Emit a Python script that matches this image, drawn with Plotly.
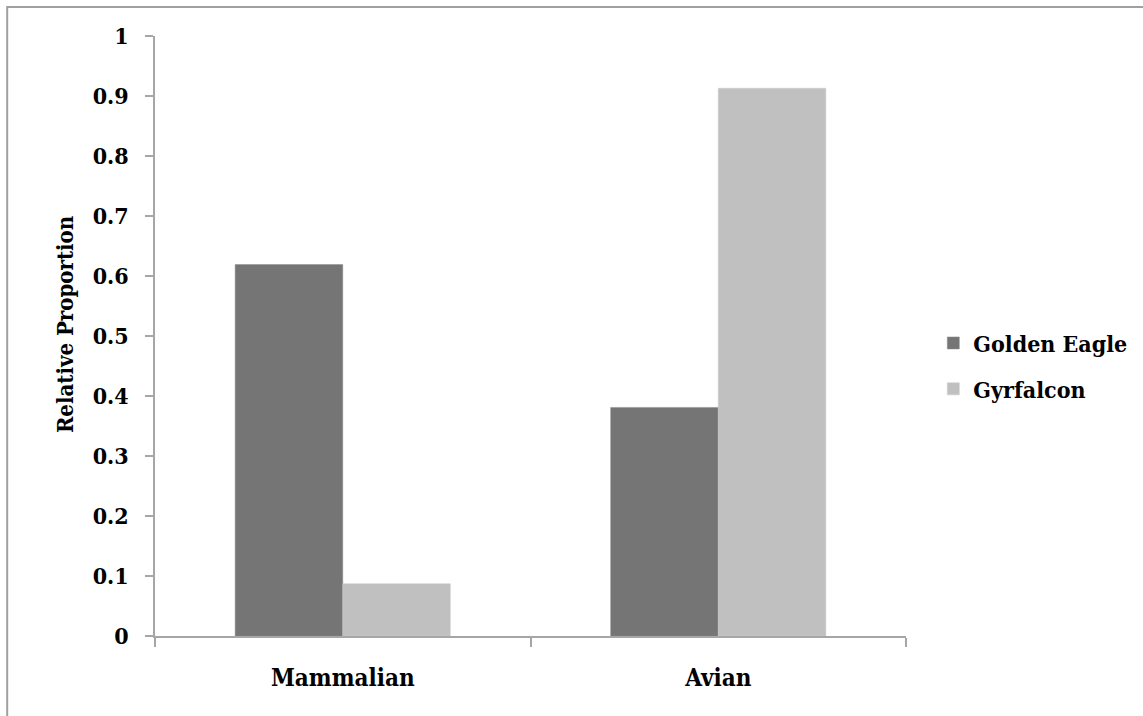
import plotly.graph_objects as go

categories = ["Mammalian", "Avian"]
golden_eagle = [0.619, 0.381]
gyrfalcon = [0.087, 0.913]
y_ticks = [0, 0.1, 0.2, 0.3, 0.4, 0.5, 0.6, 0.7, 0.8, 0.9, 1]
y_tick_labels = ["0", "0.1", "0.2", "0.3", "0.4", "0.5", "0.6", "0.7", "0.8", "0.9", "1"]

FONT = "DejaVu Serif Condensed, DejaVu Serif, serif"
AXIS_COLOR = "#A6A6A6"

fig = go.Figure()
fig.add_trace(go.Bar(name="<b>Golden Eagle</b>", x=categories, y=golden_eagle,
                     marker=dict(color="#757575", line=dict(color="#8a8a8a", width=0.5)),
                     legendgroup="a"))
fig.add_trace(go.Bar(name="<b>Gyrfalcon</b>", x=categories, y=gyrfalcon,
                     marker=dict(color="#C0C0C0", line=dict(color="#c8c8c8", width=0.5)),
                     legendgroup="b"))

W, H = 1143, 716
L, R, T, B = 155, 236, 36, 80
pw, ph = W - L - R, H - T - B

fig.update_layout(
    width=W, height=H,
    margin=dict(l=L, r=R, t=T, b=B),
    paper_bgcolor="white", plot_bgcolor="white",
    barmode="group", bargap=0.427, bargroupgap=0,
    font=dict(family=FONT, color="black", size=22),
    showlegend=True,
    legend=dict(x=1.035, y=(H - B - 366) / ph, xanchor="left", yanchor="middle",
                font=dict(family=FONT, size=23, color="black"),
                tracegroupgap=13, itemwidth=30),
    xaxis=dict(showline=True, linecolor=AXIS_COLOR, linewidth=1.5,
               tickvals=categories, ticktext=["<b>%s</b>" % c for c in categories],
               ticks="outside", tickson="boundaries", ticklen=9, tickcolor=AXIS_COLOR,
               tickwidth=1.5, tickfont=dict(family=FONT, size=24, color="black"),
               ticklabelstandoff=19, showgrid=False, zeroline=False),
    yaxis=dict(range=[0, 1], tickvals=y_ticks, ticktext=["<b>%s</b>" % t for t in y_tick_labels],
               showline=True, linecolor=AXIS_COLOR, linewidth=1.5,
               ticks="outside", ticklen=8, tickcolor=AXIS_COLOR, tickwidth=1.5,
               tickfont=dict(family=FONT, size=23, color="black"),
               ticklabelstandoff=12, showgrid=False, zeroline=False),
)

# y-axis title
fig.add_annotation(text="<b>Relative Proportion</b>", xref="paper", yref="paper",
                   x=(65 - L) / pw, y=(H - B - 325) / ph, xanchor="center", yanchor="middle",
                   textangle=-90, showarrow=False,
                   font=dict(family=FONT, size=22, color="black"))

# outer chart border
fig.add_shape(type="rect", xref="paper", yref="paper",
              x0=(7 - L) / pw, x1=(W + 20 - L) / pw,
              y0=-(H + 20 - T - ph) / ph, y1=(H - B - 7) / ph,
              line=dict(color="#A0A0A0", width=2), layer="below")

fig.write_html("out.html", config={"displayModeBar": False},
               post_script="document.body.style.margin='0';")
